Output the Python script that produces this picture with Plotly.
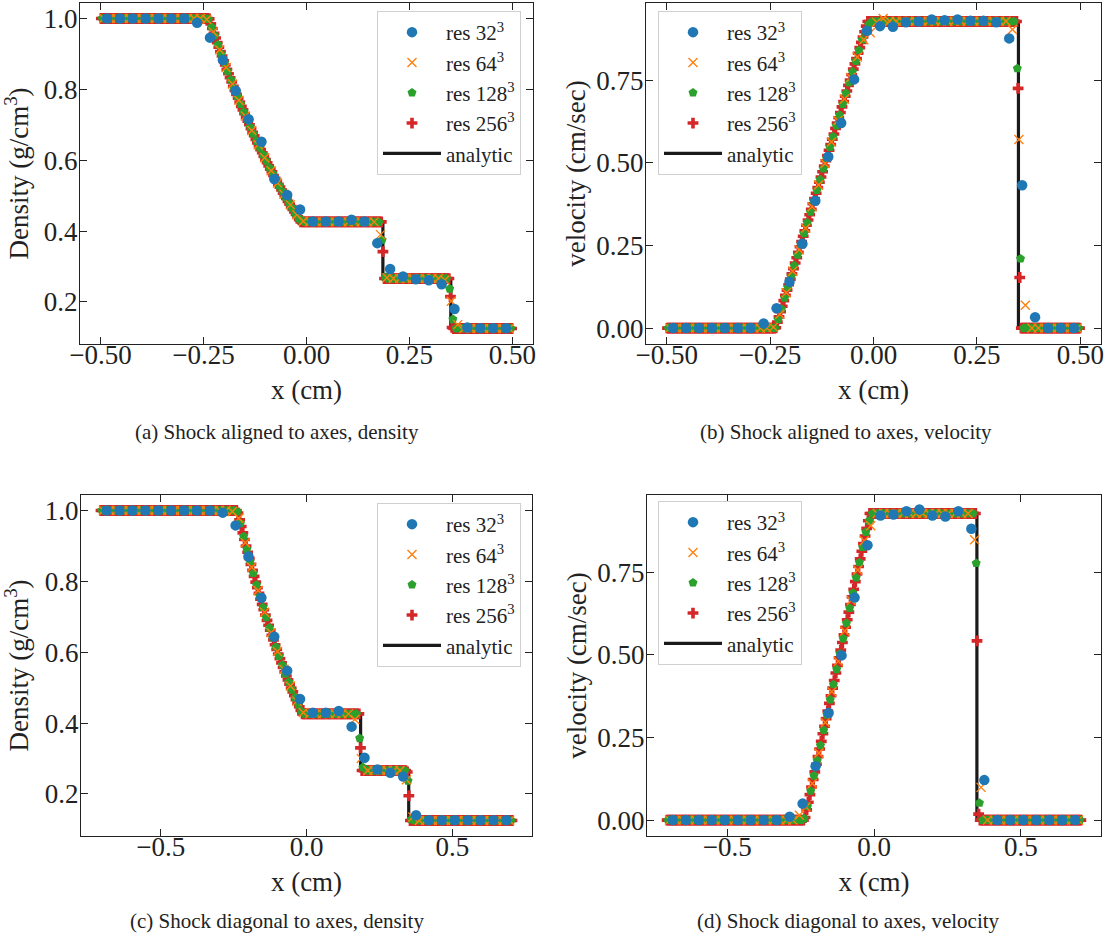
import numpy as np
import plotly.graph_objects as go

# ---------------- data ----------------
RES = [32, 64, 128, 256]
LABELS = ["res 32<sup>3</sup>", "res 64<sup>3</sup>", "res 128<sup>3</sup>", "res 256<sup>3</sup>"]
CAPTIONS = ["(a) Shock aligned to axes, density", "(b) Shock aligned to axes, velocity",
            "(c) Shock diagonal to axes, density", "(d) Shock diagonal to axes, velocity"]

# analytic solution breakpoints (interior), domain ends added per panel
an_x = [-0.2366, -0.22, -0.20, -0.18, -0.16, -0.14, -0.12, -0.10, -0.08, -0.06, -0.04, -0.02,
        -0.0141, 0.1855, 0.1855, 0.3504, 0.3504]
an_rho = [1.0, 0.9426, 0.8773, 0.8157, 0.7576, 0.7029, 0.6513, 0.6029, 0.5573, 0.5145, 0.4745, 0.4369,
          0.4263, 0.4263, 0.2656, 0.2656, 0.125]
an_u = [0.0, 0.0693, 0.1527, 0.2360, 0.3193, 0.4027, 0.4860, 0.5693, 0.6527, 0.7360, 0.8193, 0.9027,
        0.9273, 0.9273, 0.9273, 0.9273, 0.0]
an_left_rho, an_right_rho = 1.0, 0.125
an_left_u, an_right_u = 0.0, 0.0

# (a) shock aligned, density
rho_a_32 = [1.0]*7 + [0.988, 0.946, 0.883, 0.796, 0.716, 0.652, 0.547, 0.502, 0.461, 0.427, 0.427, 0.427,
                      0.432, 0.427, 0.366, 0.293, 0.272, 0.264, 0.261, 0.250, 0.180, 0.128, 0.126, 0.126, 0.126]
rho_a_64 = [1.0]*16 + [0.997, 0.962, 0.912, 0.862, 0.815, 0.769, 0.725, 0.684, 0.644, 0.607, 0.570, 0.536,
                       0.504, 0.474, 0.446, 0.428] + [0.426]*11 + [0.390, 0.268] + [0.266]*8 + \
           [0.262, 0.202, 0.136] + [0.125]*8
rho_a_128 = [1.0]*33 + [0.998, 0.976, 0.952, 0.926, 0.900, 0.875, 0.851, 0.827, 0.803, 0.781, 0.758, 0.736,
                        0.715, 0.694, 0.674, 0.654, 0.635, 0.616, 0.598, 0.579, 0.562, 0.545, 0.528, 0.512,
                        0.496, 0.480, 0.465, 0.450, 0.436] + [0.429] + [0.426]*23 + [0.425, 0.375, 0.270] + \
            [0.266]*19 + [0.237, 0.151] + [0.125]*18
rho_a_256 = [1.0]*67 + [0.999, 0.985, 0.972, 0.958, 0.945, 0.932, 0.919, 0.907, 0.894, 0.881,
                        0.869, 0.857, 0.844, 0.833, 0.821, 0.809, 0.797, 0.786, 0.775, 0.764,
                        0.752, 0.742, 0.731, 0.721, 0.710, 0.700, 0.689, 0.679, 0.669, 0.659,
                        0.649, 0.640, 0.630, 0.621, 0.611, 0.602, 0.593, 0.584, 0.575, 0.567,
                        0.557, 0.549, 0.540, 0.532, 0.524, 0.516, 0.507, 0.500, 0.492, 0.484,
                        0.476, 0.469, 0.461, 0.454, 0.447, 0.440, 0.432] + [0.426]*51 + [0.342] + \
            [0.266]*41 + [0.215, 0.128] + [0.125]*37

# (b) shock aligned, velocity
u_b_32 = [0.0]*7 + [0.014, 0.060, 0.140, 0.255, 0.385, 0.518, 0.620, 0.752, 0.899, 0.913, 0.911, 0.925,
                    0.927, 0.933, 0.931, 0.933, 0.929, 0.929, 0.925, 0.876, 0.432, 0.033, 0.0, 0.0, 0.0]
u_b_64 = [0.0]*16 + [0.003, 0.042, 0.107, 0.172, 0.237, 0.302, 0.367, 0.433, 0.498, 0.563, 0.628, 0.693,
                     0.758, 0.820, 0.872, 0.893, 0.925, 0.936] + [0.928]*19 + [0.903, 0.570, 0.069] + [0.0]*8
u_b_128 = [0.0]*34 + [0.026, 0.058, 0.091, 0.123, 0.156, 0.189, 0.221, 0.254, 0.286, 0.319, 0.351, 0.384,
                      0.417, 0.449, 0.482, 0.514, 0.547, 0.579, 0.612, 0.644, 0.677, 0.710, 0.742, 0.775,
                      0.807, 0.840, 0.872, 0.897] + [0.918] + [0.927]*45 + [0.785, 0.210] + [0.0]*18
u_b_256 = [0.0]*67 + [0.001, 0.018, 0.034, 0.050, 0.066, 0.083, 0.099, 0.115, 0.131, 0.148,
                      0.164, 0.180, 0.197, 0.213, 0.229, 0.246, 0.262, 0.278, 0.294, 0.311,
                      0.327, 0.343, 0.359, 0.376, 0.392, 0.408, 0.425, 0.441, 0.457, 0.473,
                      0.490, 0.506, 0.522, 0.538, 0.555, 0.571, 0.587, 0.604, 0.620, 0.636,
                      0.652, 0.669, 0.685, 0.701, 0.717, 0.734, 0.750, 0.766, 0.783, 0.799,
                      0.815, 0.831, 0.848, 0.864, 0.880, 0.896, 0.913] + [0.927]*93 + [0.725, 0.153] + [0.0]*37

# (c) shock diagonal, density
rho_c_32 = [1.0]*9 + [0.994, 0.958, 0.870, 0.754, 0.644, 0.548, 0.468, 0.429, 0.429, 0.434, 0.390, 0.302,
                      0.269, 0.260, 0.249, 0.140] + [0.126]*7
rho_c_64 = [1.0]*20 + [0.997, 0.978, 0.909, 0.840, 0.774, 0.713, 0.655, 0.602, 0.552, 0.505, 0.462, 0.430] + \
           [0.426]*7 + [0.410, 0.300] + [0.266]*6 + [0.240, 0.135] + [0.125]*15
rho_c_128 = [1.0]*42 + [0.997, 0.964, 0.927, 0.891, 0.856, 0.823, 0.790, 0.758, 0.727, 0.698, 0.669, 0.641,
                        0.615, 0.589, 0.564, 0.539, 0.516, 0.494, 0.472, 0.451, 0.432] + [0.426]*17 + \
            [0.357, 0.275] + [0.266]*13 + [0.237, 0.128] + [0.125]*31
rho_c_256 = [1.0]*85 + [0.993, 0.974, 0.955, 0.937, 0.918, 0.900, 0.882, 0.865, 0.848, 0.831,
                        0.814, 0.798, 0.782, 0.766, 0.750, 0.735, 0.720, 0.705, 0.690, 0.676,
                        0.662, 0.648, 0.635, 0.621, 0.608, 0.595, 0.582, 0.570, 0.557, 0.545,
                        0.533, 0.522, 0.510, 0.499, 0.488, 0.477, 0.466, 0.456, 0.446, 0.436] + \
            [0.426]*36 + [0.330] + [0.266]*28 + [0.262, 0.195] + [0.125]*64

# (d) shock diagonal, velocity
u_d_32 = [0.0]*9 + [0.010, 0.050, 0.163, 0.324, 0.498, 0.673, 0.831, 0.921, 0.924, 0.934, 0.939, 0.921,
                    0.918, 0.934, 0.881, 0.121] + [0.0]*7
u_d_64 = [0.0]*20 + [0.015, 0.040, 0.111, 0.203, 0.295, 0.388, 0.480, 0.572, 0.664, 0.756, 0.845, 0.890] + \
         [0.927]*15 + [0.848, 0.099] + [0.0]*15
u_d_128 = [0.0]*42 + [0.005, 0.042, 0.088, 0.134, 0.180, 0.226, 0.272, 0.318, 0.364, 0.410, 0.456, 0.503,
                      0.549, 0.595, 0.641, 0.687, 0.733, 0.779, 0.825, 0.871, 0.905] + [0.927]*32 + \
          [0.777, 0.052] + [0.0]*31
u_d_256 = [0.0]*85 + [0.008, 0.031, 0.054, 0.077, 0.100, 0.123, 0.146, 0.169, 0.192, 0.215,
                      0.238, 0.261, 0.284, 0.307, 0.330, 0.353, 0.376, 0.399, 0.422, 0.445,
                      0.468, 0.491, 0.514, 0.537, 0.560, 0.583, 0.606, 0.629, 0.652, 0.675,
                      0.698, 0.721, 0.744, 0.767, 0.790, 0.813, 0.836, 0.859, 0.882, 0.905] + \
          [0.927]*66 + [0.542, 0.018] + [0.0]*63

# ---------------- styling ----------------
COLORS = ["#1f77b4", "#ff7f0e", "#2ca02c", "#d62728"]
FONT = "'Liberation Serif', 'DejaVu Serif', serif"

def cell_centers(n, diagonal):
    c = (np.arange(n) + 0.5) / n - 0.5
    return c * np.sqrt(2.0) if diagonal else c

def marker_for(k, color):
    if k == 0:
        return dict(symbol="circle", size=10.5, color=color)
    if k == 1:
        return dict(symbol="x-thin", size=9, color=color, line=dict(color=color, width=1.4))
    if k == 2:
        return dict(symbol="pentagon", size=9.5, color=color)
    return dict(symbol="cross", size=9, color=color)

panels = [
    dict(series=[rho_a_32, rho_a_64, rho_a_128, rho_a_256], diag=False, an=an_rho,
         ends=(an_left_rho, an_right_rho), xr=0.5),
    dict(series=[u_b_32, u_b_64, u_b_128, u_b_256], diag=False, an=an_u,
         ends=(an_left_u, an_right_u), xr=0.5),
    dict(series=[rho_c_32, rho_c_64, rho_c_128, rho_c_256], diag=True, an=an_rho,
         ends=(an_left_rho, an_right_rho), xr=0.7),
    dict(series=[u_d_32, u_d_64, u_d_128, u_d_256], diag=True, an=an_u,
         ends=(an_left_u, an_right_u), xr=0.7),
]

fig = go.Figure()
for p_i, p in enumerate(panels):
    ax = "" if p_i == 0 else str(p_i + 1)
    leg = "legend" if p_i == 0 else "legend" + str(p_i + 1)
    ax_x = [-p["xr"]] + an_x + [p["xr"]]
    ax_y = [p["ends"][0]] + p["an"] + [p["ends"][1]]
    fig.add_trace(go.Scatter(x=ax_x, y=ax_y, mode="lines", name="analytic",
                             line=dict(color="#1a1a1a", width=3.2),
                             xaxis="x" + ax, yaxis="y" + ax, legend=leg,
                             legendgroup=f"p{p_i}an", legendrank=5))
    for k in [3, 2, 1, 0]:
        n = RES[k]
        vals = p["series"][k]
        assert len(vals) == n, (p_i, n, len(vals))
        fig.add_trace(go.Scatter(x=cell_centers(n, p["diag"]), y=vals, mode="markers",
                                 name=LABELS[k], marker=marker_for(k, COLORS[k]),
                                 xaxis="x" + ax, yaxis="y" + ax, legend=leg,
                                 legendgroup=f"p{p_i}r{n}", legendrank=k + 1))

W, H = 1112, 938
def dx(a, b):
    return [a / W, b / W]
def dy(top, bottom):
    return [1 - bottom / H, 1 - top / H]

axis_common = dict(showline=True, linecolor="#222222", linewidth=1.2, mirror="ticks",
                   ticks="inside", ticklen=7, tickwidth=1.2, tickcolor="#222222",
                   showgrid=False, zeroline=False, automargin=False,
                   tickfont=dict(family=FONT, size=27, color="#222222"),
                   title_font=dict(family=FONT, size=27, color="#222222"))

xd = [dx(80, 533), dx(646, 1101), dx(81, 532), dx(647, 1101)]
yd = [dy(3, 344), dy(3, 344), dy(495, 836), dy(495, 836)]
xranges = [[-0.55, 0.55], [-0.55, 0.55], [-0.773, 0.773], [-0.773, 0.773]]
yranges = [[0.0813, 1.0438], [-0.048, 0.983], [0.0813, 1.0438], [-0.048, 0.983]]
xticks = [[-0.5, -0.25, 0.0, 0.25, 0.5], [-0.5, -0.25, 0.0, 0.25, 0.5], [-0.5, 0.0, 0.5], [-0.5, 0.0, 0.5]]
xfmt = [".2f", ".2f", ".1f", ".1f"]
yticks = [[0.2, 0.4, 0.6, 0.8, 1.0], [0.0, 0.25, 0.5, 0.75], [0.2, 0.4, 0.6, 0.8, 1.0], [0.0, 0.25, 0.5, 0.75]]
yfmt = [".1f", ".2f", ".1f", ".2f"]
ytitles = ["Density (g/cm<sup>3</sup>)", "velocity (cm/sec)", "Density (g/cm<sup>3</sup>)", "velocity (cm/sec)"]
ystandoff = [14, 2, 14, 2]

layout = dict(width=W, height=H, margin=dict(l=0, r=0, t=0, b=0, autoexpand=False),
              paper_bgcolor="white", plot_bgcolor="white", showlegend=True)
for i in range(4):
    ax = "" if i == 0 else str(i + 1)
    layout["xaxis" + ax] = dict(axis_common, domain=xd[i], range=xranges[i], tickvals=xticks[i],
                                tickformat=xfmt[i], anchor="y" + ax, ticklabelstandoff=-14,
                                title=dict(text="x (cm)", standoff=11))
    layout["yaxis" + ax] = dict(axis_common, domain=yd[i], range=yranges[i], tickvals=yticks[i],
                                tickformat=yfmt[i], anchor="x" + ax, ticklabelstandoff=-4,
                                title=dict(text=ytitles[i], standoff=ystandoff[i]))

leg_pos = [(377, 11), (658, 11), (377, 503), (658, 501)]
for i, (lx, ly) in enumerate(leg_pos):
    name = "legend" if i == 0 else "legend" + str(i + 1)
    layout[name] = dict(x=lx / W, y=1 - ly / H, xanchor="left", yanchor="top",
                        bgcolor="rgba(255,255,255,0.85)", bordercolor="#d0d0d0", borderwidth=1,
                        font=dict(family=FONT, size=21, color="#222222"),
                        tracegroupgap=3.5, itemwidth=58, traceorder="normal")

cap_pos = [(277, 432), (846, 432), (277, 921), (848, 921)]
layout["annotations"] = [dict(text=CAPTIONS[i], x=cx / W, y=1 - cy / H, xref="paper", yref="paper",
                              showarrow=False, xanchor="center", yanchor="middle",
                              font=dict(family=FONT, size=21, color="#222222"))
                         for i, (cx, cy) in enumerate(cap_pos)]

fig.update_layout(**layout)
fig.write_html("out.html", config={"displayModeBar": False},
               post_script="document.body.style.margin='0';document.body.style.overflow='hidden';")
